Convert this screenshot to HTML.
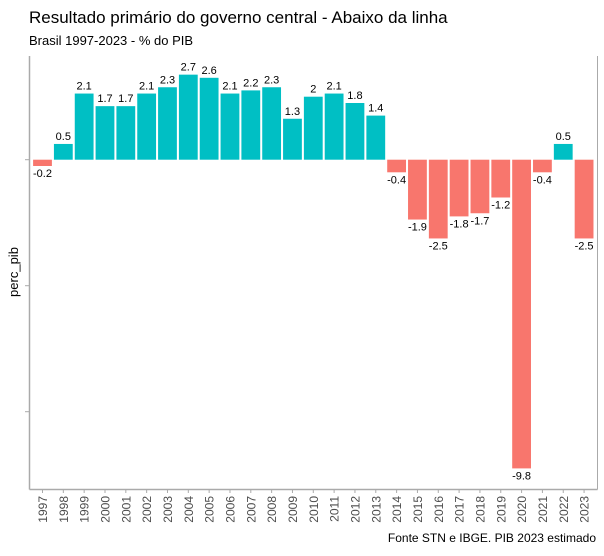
<!DOCTYPE html>
<html><head><meta charset="utf-8"><style>
body{margin:0;background:#fff;font-family:"Liberation Sans",sans-serif}
</style></head><body>
<svg width="604" height="551" xmlns="http://www.w3.org/2000/svg" font-family="Liberation Sans, sans-serif">
<text x="29" y="23" font-size="17" fill="#000">Resultado primário do governo central - Abaixo da linha</text>
<text x="29" y="45" font-size="13" fill="#000">Brasil 1997-2023 - % do PIB</text>
<text transform="translate(18,272) rotate(-90)" text-anchor="middle" font-size="13">perc_pib</text>
<text x="596" y="542" text-anchor="end" font-size="12">Fonte STN e IBGE. PIB 2023 estimado</text>
<g id="bars"></g>
<g id="axes"></g>
</svg>
<script>
const years=[1997,1998,1999,2000,2001,2002,2003,2004,2005,2006,2007,2008,2009,2010,2011,2012,2013,2014,2015,2016,2017,2018,2019,2020,2021,2022,2023];
const values=[-0.2,0.5,2.1,1.7,1.7,2.1,2.3,2.7,2.6,2.1,2.2,2.3,1.3,2,2.1,1.8,1.4,-0.4,-1.9,-2.5,-1.8,-1.7,-1.2,-9.8,-0.4,0.5,-2.5];
const yTicks=[0,-4,-8];
const NS="http://www.w3.org/2000/svg";
const x0=42.5,step=20.83,bw=18.8,zeroY=159.7,k=31.5;
const xs=i=>x0+i*step;
const ys=v=>zeroY-v*k;
function mk(t,a,p){const e=document.createElementNS(NS,t);for(const n in a)e.setAttribute(n,a[n]);p.appendChild(e);return e;}
const bars=document.getElementById('bars'),axes=document.getElementById('axes');
values.forEach((v,i)=>{
 const cx=xs(i),y1=ys(Math.max(v,0)),y2=ys(Math.min(v,0));
 const r=mk('rect',{x:cx-bw/2,y:y1,width:bw,height:Math.max(y2-y1,0.5),fill:v>=0?'#00BFC4':'#F8766D'},bars);
 
 
 const t=mk('text',{x:cx,y:v>=0?y1-4:y2+11,'text-anchor':'middle','font-size':'11',fill:'#000'},bars);
 t.textContent=String(v);
 
 
 const tk=mk('line',{x1:cx,x2:cx,y1:489.5,y2:493,stroke:'#aaa'},axes);
 
 
 const yl=mk('text',{transform:`translate(${cx+4.5},496) rotate(-90)`,'text-anchor':'end','font-size':'12',fill:'#4d4d4d'},axes);
 yl.textContent=years[i];
 
 
});
yTicks.forEach(v=>{
 const l=mk('line',{x1:25,x2:29.5,y1:ys(v),y2:ys(v),stroke:'#aaa'},axes);
 
 
});
const la=mk('line',{x1:29.5,x2:29.5,y1:56,y2:489.5,stroke:'#aaa','stroke-width':1.5},axes);


const lb=mk('line',{x1:29.5,x2:597.5,y1:489.5,y2:489.5,stroke:'#aaa','stroke-width':1.5},axes);


const lr=mk('line',{x1:597.5,x2:597.5,y1:56,y2:489.5,stroke:'#aaa','stroke-width':1},axes);


</script>
</body></html>
